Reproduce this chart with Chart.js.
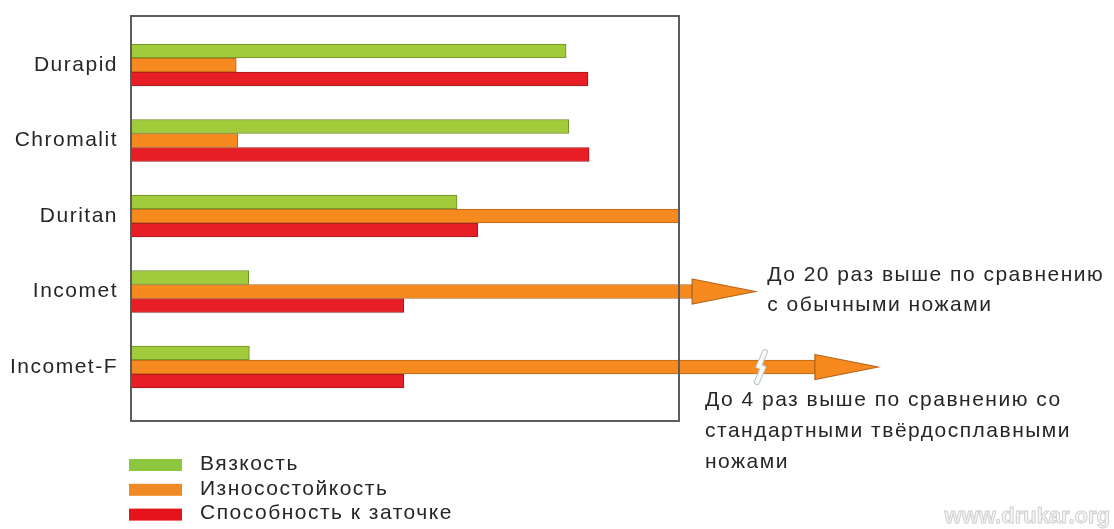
<!DOCTYPE html>
<html>
<head>
<meta charset="utf-8">
<script src="https://cdn.jsdelivr.net/npm/chart.js@4.4.1/dist/chart.umd.min.js"></script>
<style>
  html, body { margin: 0; padding: 0; background: #ffffff; }
  #wrap { width: 1114px; height: 529px; position: relative; }
</style>
</head>
<body>
<div id="wrap"><canvas id="c" width="1114" height="529"></canvas></div>
<script>
// ---- data ----
const categories = ['Durapid', 'Chromalit', 'Duritan', 'Incomet', 'Incomet-F'];
const toughness = [79.4, 79.9, 59.5, 21.5, 21.6];          // Вязкость
const wearResistance = [19.2, 19.5, 100, 113.9, 136.3];    // Износостойкость
const sharpenability = [83.4, 83.6, 63.3, 49.8, 49.8];     // Способность к заточке
const seriesNames = ['Вязкость', 'Износостойкость', 'Способность к заточке'];
const noteIncomet = ['До 20 раз выше по сравнению', 'с обычными ножами'];
const noteIncometF = ['До 4 раз выше по сравнению со', 'стандартными твёрдосплавными', 'ножами'];
const breakCategory = 'Incomet-F';
const watermark = 'www.drukar.org';

const FONT = '"Liberation Sans", Arial, sans-serif';
const TEXT = '#262626';
const HEAD_LEN = 63, HEAD_HALF = 12.5;

function pts(values) { return values.map((v, i) => ({ x: v, y: i })); }

const fills = ['#a2cb3c', '#f68a1f', '#e81e26'];
const borders = ['#6a8a26', '#b8651a', '#a0181c'];
const swatches = ['#8dc63f', '#f08a24', '#e5141b'];

const arrowPlugin = {
  id: 'arrows',
  beforeDraw(chart) {
    chart.ctx.letterSpacing = '1.5px';
  },
  afterDatasetsUpdate(chart) {
    const xs = chart.scales.x;
    const meta = chart.getDatasetMeta(1);
    meta.data.forEach((el, i) => {
      if (wearResistance[i] > xs.max) {
        el.$tip = el.x;
        el.x = el.x - HEAD_LEN;
      } else {
        el.$tip = null;
      }
    });
  },
  afterDatasetsDraw(chart) {
    const ctx = chart.ctx;
    const meta = chart.getDatasetMeta(1);
    ctx.save();
    meta.data.forEach((el, i) => {
      if (el.$tip == null) return;
      ctx.beginPath();
      ctx.moveTo(el.x, el.y - HEAD_HALF);
      ctx.lineTo(el.$tip, el.y);
      ctx.lineTo(el.x, el.y + HEAD_HALF);
      ctx.closePath();
      ctx.fillStyle = fills[1];
      ctx.fill();
      ctx.strokeStyle = borders[1];
      ctx.lineWidth = 1.2;
      ctx.stroke();
      if (categories[i] === breakCategory) {
        const bx = el.$tip - 118, y = el.y;
        const path = () => {
          ctx.beginPath();
          ctx.moveTo(bx + 5, y - 15);
          ctx.lineTo(bx - 1, y - 1);
          ctx.lineTo(bx + 3, y + 1);
          ctx.lineTo(bx - 3, y + 15);
        };
        ctx.lineCap = 'round';
        path(); ctx.strokeStyle = '#b8c4d2'; ctx.lineWidth = 6; ctx.stroke();
        path(); ctx.strokeStyle = '#fbfbf6'; ctx.lineWidth = 4; ctx.stroke();
      }
    });
    ctx.restore();
  },
  afterDraw(chart) {
    const ctx = chart.ctx;
    const area = chart.chartArea;
    ctx.save();
    ctx.letterSpacing = '1.5px';
    ctx.strokeStyle = '#5c5c5c';
    ctx.lineWidth = 2;
    ctx.strokeRect(area.left, area.top, area.right - area.left, area.bottom - area.top);

    const meta = chart.getDatasetMeta(1);
    ctx.fillStyle = TEXT;
    ctx.font = '21px ' + FONT;
    ctx.textBaseline = 'middle';
    ctx.textAlign = 'left';
    const e3 = meta.data[3], e4 = meta.data[4];
    noteIncomet.forEach((s, k) => ctx.fillText(s, e3.$tip + 12, e3.y - 16 + k * 30));
    noteIncometF.forEach((s, k) => ctx.fillText(s, area.right + 26, e4.y + 33 + k * 31));

    chart.data.datasets.forEach((ds, k) => {
      const y = area.bottom + 44 + k * 24.8;
      ctx.fillStyle = swatches[k];
      ctx.fillRect(area.left - 2, y - 6, 53, 12);
      ctx.fillStyle = TEXT;
      ctx.fillText(ds.label, area.left + 69, y - 1);
    });

    ctx.font = 'bold 22px ' + FONT;
    ctx.textAlign = 'right';
    ctx.letterSpacing = '0px';
    ctx.lineWidth = 1;
    ctx.strokeStyle = '#d0d0d0';
    ctx.fillStyle = '#f6f6f6';
    ctx.fillText(watermark, chart.width - 4, chart.height - 12);
    ctx.strokeText(watermark, chart.width - 4, chart.height - 12);
    ctx.restore();
  }
};

new Chart(document.getElementById('c'), {
  type: 'bar',
  data: {
    datasets: [
      { label: seriesNames[0], data: pts(toughness), backgroundColor: fills[0], borderColor: borders[0], borderWidth: 1 },
      { label: seriesNames[1], data: pts(wearResistance), backgroundColor: fills[1], borderColor: borders[1], borderWidth: 1, clip: false },
      { label: seriesNames[2], data: pts(sharpenability), backgroundColor: fills[2], borderColor: borders[2], borderWidth: 1 }
    ]
  },
  options: {
    indexAxis: 'y',
    responsive: false,
    animation: false,
    barThickness: 14,
    layout: { padding: { top: 16, right: 435, bottom: 108, left: 0 } },
    plugins: { legend: { display: false }, tooltip: { enabled: false } },
    scales: {
      x: { type: 'linear', min: 0, max: 100, display: false, offset: false },
      y: {
        type: 'linear',
        offset: false,
        reverse: true,
        min: -0.649,
        max: 4.715,
        grid: { display: false, drawTicks: false, offset: false },
        border: { display: false },
        afterFit(scale) { scale.width = 131; scale.paddingTop = 0; scale.paddingBottom = 0; },
        afterBuildTicks(scale) { scale.ticks = categories.map((c, i) => ({ value: i })); },
        ticks: {
          padding: 13,
          color: TEXT,
          font: { family: FONT, size: 21 },
          callback: (v) => categories[v]
        }
      }
    }
  },
  plugins: [arrowPlugin]
});
</script>
</body>
</html>
